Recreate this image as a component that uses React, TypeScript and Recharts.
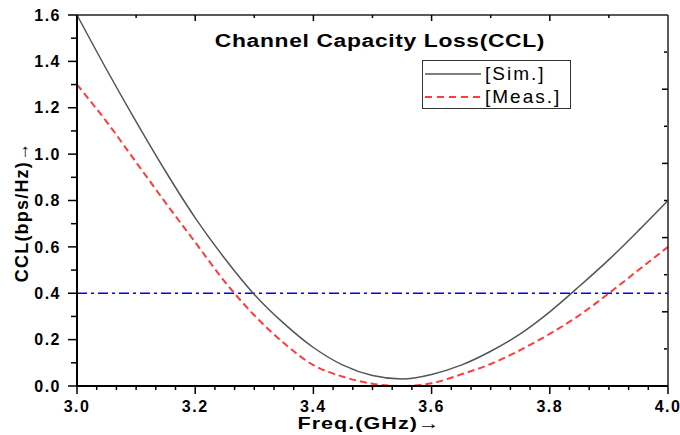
import { LineChart, Line, XAxis, YAxis, ReferenceLine } from 'recharts'

const freq = [3.0, 3.05, 3.1, 3.15, 3.2, 3.25, 3.3, 3.35, 3.4, 3.45, 3.5, 3.55, 3.6, 3.65, 3.7, 3.75, 3.8, 3.85, 3.9, 3.95, 4.0]
const simCCL = [1.6, 1.365, 1.14, 0.925, 0.725, 0.55, 0.395, 0.27, 0.166, 0.09, 0.045, 0.03, 0.05, 0.09, 0.15, 0.225, 0.32, 0.43, 0.545, 0.67, 0.8]
const measCCL = [1.3, 1.14, 0.965, 0.79, 0.62, 0.45, 0.305, 0.185, 0.09, 0.04, 0.01, 0.0, 0.012, 0.05, 0.095, 0.155, 0.225, 0.305, 0.4, 0.5, 0.6]

const yTicks = [0, 0.2, 0.4, 0.6, 0.8, 1.0, 1.2, 1.4, 1.6]
const yMinor = [0.1, 0.3, 0.5, 0.7, 0.9, 1.1, 1.3, 1.5]
const threshold = 0.4

// bottom ticks every 1/30 GHz: labels every 0.2, top-frame ticks every 0.1
const xTicks = Array.from({ length: 31 }, (_, i) => 3 + i / 30)
const rightMajor = [2, 4, 6, 8]
const rightMinor = [1, 3, 5, 7, 9]

const data = freq.map((f, i) => ({ f, sim: simCCL[i], meas: measCCL[i] }))

const PLOT_TOP = 15
const font = 'Arial, "Liberation Sans", sans-serif'
const tickStyle = { fontSize: 16, fontWeight: 700, fill: '#000', fontFamily: font, letterSpacing: 1.5 }
const blank = () => ''
const tl = { stroke: '#000', strokeWidth: 1.5 }

function FreqTick(props: any) {
  const { x, y, payload } = props
  const k = Math.round((payload.value - 3) * 30)
  const major = k % 6 === 0
  const tenth = k % 3 === 0
  return (
    <g>
      <line x1={x} x2={x} y1={y} y2={y + (major ? 8 : 4)} stroke="#000" strokeWidth={1.5} />
      {tenth && k > 0 && k < 30 && (
        <line x1={x} x2={x} y1={PLOT_TOP} y2={PLOT_TOP + (major ? 6 : 3)} stroke="#000" strokeWidth={1.5} />
      )}
      {major && (
        <text x={x} y={y + 26} textAnchor="middle" {...tickStyle}>{payload.value.toFixed(1)}</text>
      )}
    </g>
  )
}

function LegendBox() {
  const row = { display: 'flex', alignItems: 'center', height: 23 }
  const txt = { fontSize: 19, letterSpacing: 2, color: '#000', marginLeft: 4 }
  return (
    <div style={{ position: 'absolute', left: 422, top: 60, border: '1px solid #333', width: 149, height: 49, background: '#fff', fontFamily: font, boxSizing: 'border-box', paddingLeft: 2, paddingTop: 1 }}>
      <div style={row}>
        <svg width={56} height={4}><line x1={0} y1={2} x2={56} y2={2} stroke="#555" strokeWidth={1.5} /></svg>
        <span style={txt}>[Sim.]</span>
      </div>
      <div style={row}>
        <svg width={56} height={4}><line x1={0} y1={2} x2={56} y2={2} stroke="#ff3b3b" strokeWidth={2} strokeDasharray="7 5" /></svg>
        <span style={txt}>[Meas.]</span>
      </div>
    </div>
  )
}

const labelStyle = { position: 'absolute' as const, textAlign: 'center' as const, fontSize: 18, fontWeight: 700, lineHeight: '22px', whiteSpace: 'nowrap' as const }

export default function App() {
  return (
    <div style={{ position: 'absolute', left: 0, top: 0, width: 680, height: 435, background: '#fff', fontFamily: font, overflow: 'hidden' }}>
      <LineChart width={680} height={435} data={data} margin={{ top: 14, right: 12, bottom: 48, left: 75 }}>
        <XAxis xAxisId="x" dataKey="f" type="number" domain={[3, 4]} ticks={xTicks} interval={0} height={1}
          tickSize={0} tickMargin={0} tick={<FreqTick />} tickLine={false}
          axisLine={{ stroke: '#000', strokeWidth: 2 }} />
        <XAxis xAxisId="top" dataKey="f" orientation="top" type="number" domain={[3, 4]} height={1}
          tick={false} tickLine={false} axisLine={{ stroke: '#222', strokeWidth: 1.5 }} />
        <YAxis yAxisId="y" type="number" domain={[0, 1.6]} ticks={yTicks} width={1}
          tickSize={9} tickMargin={7} tick={tickStyle} tickFormatter={(v: number) => v.toFixed(1)}
          axisLine={{ stroke: '#000', strokeWidth: 2 }} tickLine={tl} />
        <YAxis yAxisId="ym" type="number" domain={[0, 1.6]} allowDataOverflow ticks={yMinor} width={1}
          tickSize={5} tickFormatter={blank} axisLine={false} tickLine={tl} />
        <YAxis yAxisId="rM" orientation="right" type="number" domain={[0, 10]} allowDataOverflow ticks={rightMajor} width={1} mirror
          tickSize={6} tickFormatter={blank} axisLine={{ stroke: '#222', strokeWidth: 1.5 }} tickLine={tl} />
        <YAxis yAxisId="rm" orientation="right" type="number" domain={[0, 10]} allowDataOverflow ticks={rightMinor} width={1} mirror
          tickSize={3} tickFormatter={blank} axisLine={false} tickLine={tl} />
        <ReferenceLine xAxisId="x" yAxisId="y" y={threshold} stroke="#0000ff" strokeWidth={1.5} strokeDasharray="10 4 3 4" />
        <Line xAxisId="x" yAxisId="y" dataKey="sim" name="[Sim.]" type="monotone" stroke="#555" strokeWidth={1.5} dot={false} isAnimationActive={false} />
        <Line xAxisId="x" yAxisId="y" dataKey="meas" name="[Meas.]" type="monotone" stroke="#ff3b3b" strokeWidth={2} strokeDasharray="7 4" dot={false} isAnimationActive={false} />
      </LineChart>
      <LegendBox />
      <div style={{ ...labelStyle, left: 180, width: 400, top: 30, letterSpacing: 0.5, transform: 'scaleX(1.27)' }}>
        Channel Capacity Loss(CCL)
      </div>
      <div style={{ ...labelStyle, left: 219, width: 300, top: 416, fontSize: 17, lineHeight: '15px', letterSpacing: 0.8, transform: 'scaleX(1.27)' }}>
        Freq.(GHz)→
      </div>
      <div style={{ ...labelStyle, left: 22 - 100, width: 200, top: 212 - 11, letterSpacing: 1.2, transform: 'rotate(-90deg)' }}>
        CCL(bps/Hz)→
      </div>
    </div>
  )
}
